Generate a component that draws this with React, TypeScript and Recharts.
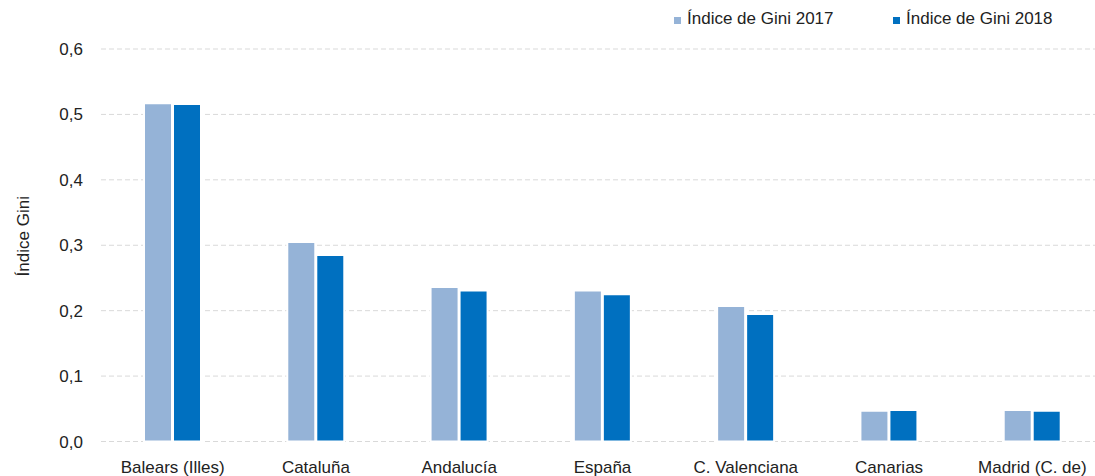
import React from 'react';
import { BarChart, Bar, XAxis, YAxis, CartesianGrid, Legend } from 'recharts';

const categories = ['Balears (Illes)', 'Cataluña', 'Andalucía', 'España', 'C. Valenciana', 'Canarias', 'Madrid (C. de)'];
const gini2017 = [0.517, 0.305, 0.236, 0.231, 0.207, 0.047, 0.048];
const gini2018 = [0.516, 0.285, 0.231, 0.225, 0.195, 0.048, 0.047];
const yTicks = [0, 0.1, 0.2, 0.3, 0.4, 0.5, 0.6];
const seriesNames = ['Índice de Gini 2017', 'Índice de Gini 2018'];
const colors = ['#95B3D7', '#0070C0'];

const data = categories.map((c, i) => ({ name: c, g2017: gini2017[i], g2018: gini2018[i] }));

const FONT = '"Liberation Sans", Arial, sans-serif';
const TEXT = '#222222';

const LegendContent = (props: any) => {
  const { payload } = props;
  return (
    <div style={{ display: 'flex', fontFamily: FONT, fontSize: 17, color: TEXT }}>
      {(payload || []).map((p: any) => (
        <div key={p.value} style={{ width: 219, display: 'flex', alignItems: 'center' }}>
          <span style={{ display: 'inline-block', width: 7, height: 7, background: p.color, marginRight: 6, marginTop: 2 }} />
          <span>{p.value}</span>
        </div>
      ))}
    </div>
  );
};

const YLabel = (props: any) => {
  const vb = props.viewBox || {};
  const cx = 23;
  const cy = (vb.y || 0) + (vb.height || 0) / 2 - 9;
  return (
    <text x={cx} y={cy} transform={`rotate(-90 ${cx} ${cy})`} textAnchor="middle" dominantBaseline="central"
      fontFamily={FONT} fontSize={17} fill={TEXT}>Índice Gini</text>
  );
};

export default function App() {
  return (
    <div style={{ position: 'absolute', left: 0, top: 0, width: 1095, height: 476, overflow: 'hidden', background: '#fff' }}>
      <BarChart width={1108} height={476} data={data} margin={{ top: 49, right: 4, bottom: 4.5, left: 0 }}
        barSize={28} barGap={1}>
        <CartesianGrid vertical={false} stroke="#d9d9d9" strokeDasharray="5 3" />
        <XAxis dataKey="name" axisLine={false} tickLine={false} height={30} interval={0} tickMargin={13}
          tick={{ fontFamily: FONT, fontSize: 17, fill: TEXT }} />
        <YAxis width={101} domain={[0, 0.6]} ticks={yTicks} axisLine={false} tickLine={false} tickMargin={12}
          tickFormatter={(v: number) => v.toFixed(1).replace('.', ',')}
          tick={{ fontFamily: FONT, fontSize: 17, fill: TEXT }}
          label={<YLabel />} />
        <Legend layout="horizontal" verticalAlign="middle" align="center" content={<LegendContent />}
          wrapperStyle={{ top: 9, left: 674, width: 440, height: 24 }} />
        <Bar dataKey="g2017" name={seriesNames[0]} fill={colors[0]} stroke="#ffffff" strokeWidth={2} isAnimationActive={false} />
        <Bar dataKey="g2018" name={seriesNames[1]} fill={colors[1]} stroke="#ffffff" strokeWidth={2} isAnimationActive={false} />
      </BarChart>
    </div>
  );
}
